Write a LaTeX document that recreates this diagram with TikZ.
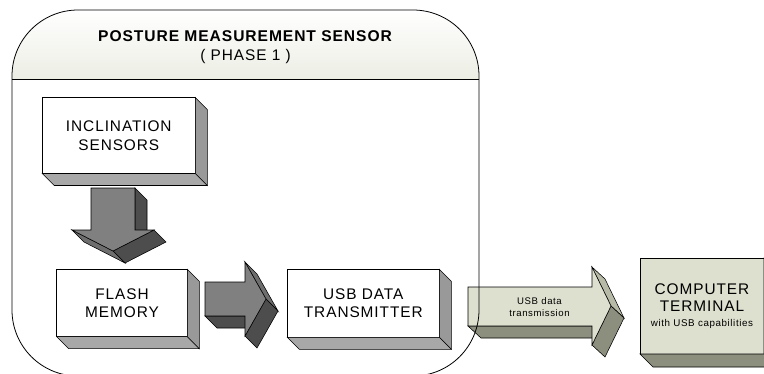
\documentclass[tikz,border=0pt]{standalone}
\usepackage{fontspec}
\setmainfont{Liberation Sans}[LetterSpace=6]
\usetikzlibrary{calc}

\definecolor{boxside}{RGB}{153,153,153}
\definecolor{boxbottom}{RGB}{168,168,168}
\definecolor{arrowfront}{RGB}{128,128,128}
\definecolor{arrowmid}{RGB}{110,110,110}
\definecolor{arrowdark}{RGB}{77,77,77}
\definecolor{olivefront}{RGB}{221,224,206}
\definecolor{olivemid}{RGB}{184,186,168}
\definecolor{olivedark}{RGB}{140,142,126}
\definecolor{headerbot}{RGB}{236,238,228}

\tikzset{
  outline/.style={draw=black, line width=0.55pt, line join=miter},
  bigtext/.style={font=\fontsize{15.4}{18.5}\selectfont},
  smalltext/.style={font=\fontsize{9.6}{11.7}\selectfont},
  frontface/.style={outline, fill=white, inner sep=0pt, outer sep=0pt,
    anchor=north west, align=center, bigtext},
}

% side and bottom faces of an extruded block, depth #2
\newcommand\blockdepth[4]{%
  \filldraw[outline, fill=#3] (#1.north east) -- ++(#2,#2)
    -- ($(#1.south east)+(#2,#2)$) -- (#1.south east) -- cycle;
  \filldraw[outline, fill=#4] (#1.south west) -- ++(#2,#2)
    -- ($(#1.south east)+(#2,#2)$) -- (#1.south east) -- cycle;
}

\begin{document}
\begin{tikzpicture}[x=1pt,y=-1pt]
\useasboundingbox (0,0) rectangle (764,373);
\clip (0,0) rectangle (764,373);

% container with shaded header
\fill[white, rounded corners=66] (12,10) rectangle (479,376);
\begin{scope}
  \clip[rounded corners=66] (12,10) rectangle (479,376);
  \shade[top color=white, bottom color=headerbot] (12,10) rectangle (479,79);
\end{scope}
\node[bigtext, align=center, anchor=north, inner sep=0pt] (title) at (245.5,30.5)
  {\fontsize{15.6}{19.3}\selectfont\textbf{POSTURE MEASUREMENT SENSOR}\\( PHASE 1 )};

% blocks
\node[frontface, minimum width=153pt, minimum height=76pt] (incl) at (42.3,97.5)
  {INCLINATION\\SENSORS};
\blockdepth{incl}{12}{boxside}{boxbottom}

\node[frontface, minimum width=130.6pt, minimum height=67.4pt] (flash) at (56.7,269.3)
  {FLASH\\MEMORY};
\blockdepth{flash}{12}{boxside}{boxbottom}

\node[frontface, minimum width=152pt, minimum height=68pt] (usbtx) at (287.3,269.3)
  {USB DATA\\TRANSMITTER};
\blockdepth{usbtx}{12}{boxside}{boxbottom}

\node[frontface, fill=olivefront, minimum width=124pt, minimum height=95.7pt] (term) at (640,258.3)
  {COMPUTER\\[-2pt]TERMINAL\\[-3pt]\fontsize{9.8}{11.7}\selectfont with USB capabilities};
\blockdepth{term}{13}{olivemid}{olivedark}

% block arrow: sensors to flash memory
\filldraw[outline, fill=arrowdark] (135,188) -- (147,200) -- (147,242) -- (135,230) -- cycle;
\filldraw[outline, fill=arrowdark] (154,230) -- (166,242) -- (125,263) -- (113,251) -- cycle;
\filldraw[outline, fill=arrowmid] (72,230) -- (84,242) -- (125,263) -- (113,251) -- cycle;
\filldraw[outline, fill=arrowfront] (91,188) -- (135,188) -- (135,230) -- (154,230)
  -- (113,251) -- (72,230) -- (91,230) -- cycle;

% block arrow: flash memory to transmitter
\filldraw[outline, fill=arrowdark] (205,316) -- (245,316) -- (257,328) -- (217,328) -- cycle;
\filldraw[outline, fill=arrowmid] (245,262) -- (257,274) -- (278,311) -- (266,299) -- cycle;
\filldraw[outline, fill=arrowdark] (266,299) -- (278,311) -- (257,348) -- (245,336) -- cycle;
\filldraw[outline, fill=arrowfront] (205,282) -- (245,282) -- (245,262) -- (266,299)
  -- (245,336) -- (245,316) -- (205,316) -- cycle;

% block arrow: transmitter to computer terminal
\filldraw[outline, fill=olivedark] (468,326) -- (592,326) -- (605,338) -- (481,338) -- cycle;
\filldraw[outline, fill=olivemid] (592,267) -- (605,279) -- (624,318) -- (611,306) -- cycle;
\filldraw[outline, fill=olivedark] (611,306) -- (624,318) -- (605,357) -- (592,345) -- cycle;
\filldraw[outline, fill=olivefront] (468,287) -- (592,287) -- (592,267) -- (611,306)
  -- (592,345) -- (592,326) -- (468,326) -- cycle;
\node[smalltext, align=center] (usblink) at (539.5,307.4) {USB data\\transmission};

% container outline and header divider
\draw[line width=0.8pt, rounded corners=66] (12,10) rectangle (479,376);
\draw[line width=0.8pt] (12,79) -- (479,79);
\end{tikzpicture}
\end{document}
